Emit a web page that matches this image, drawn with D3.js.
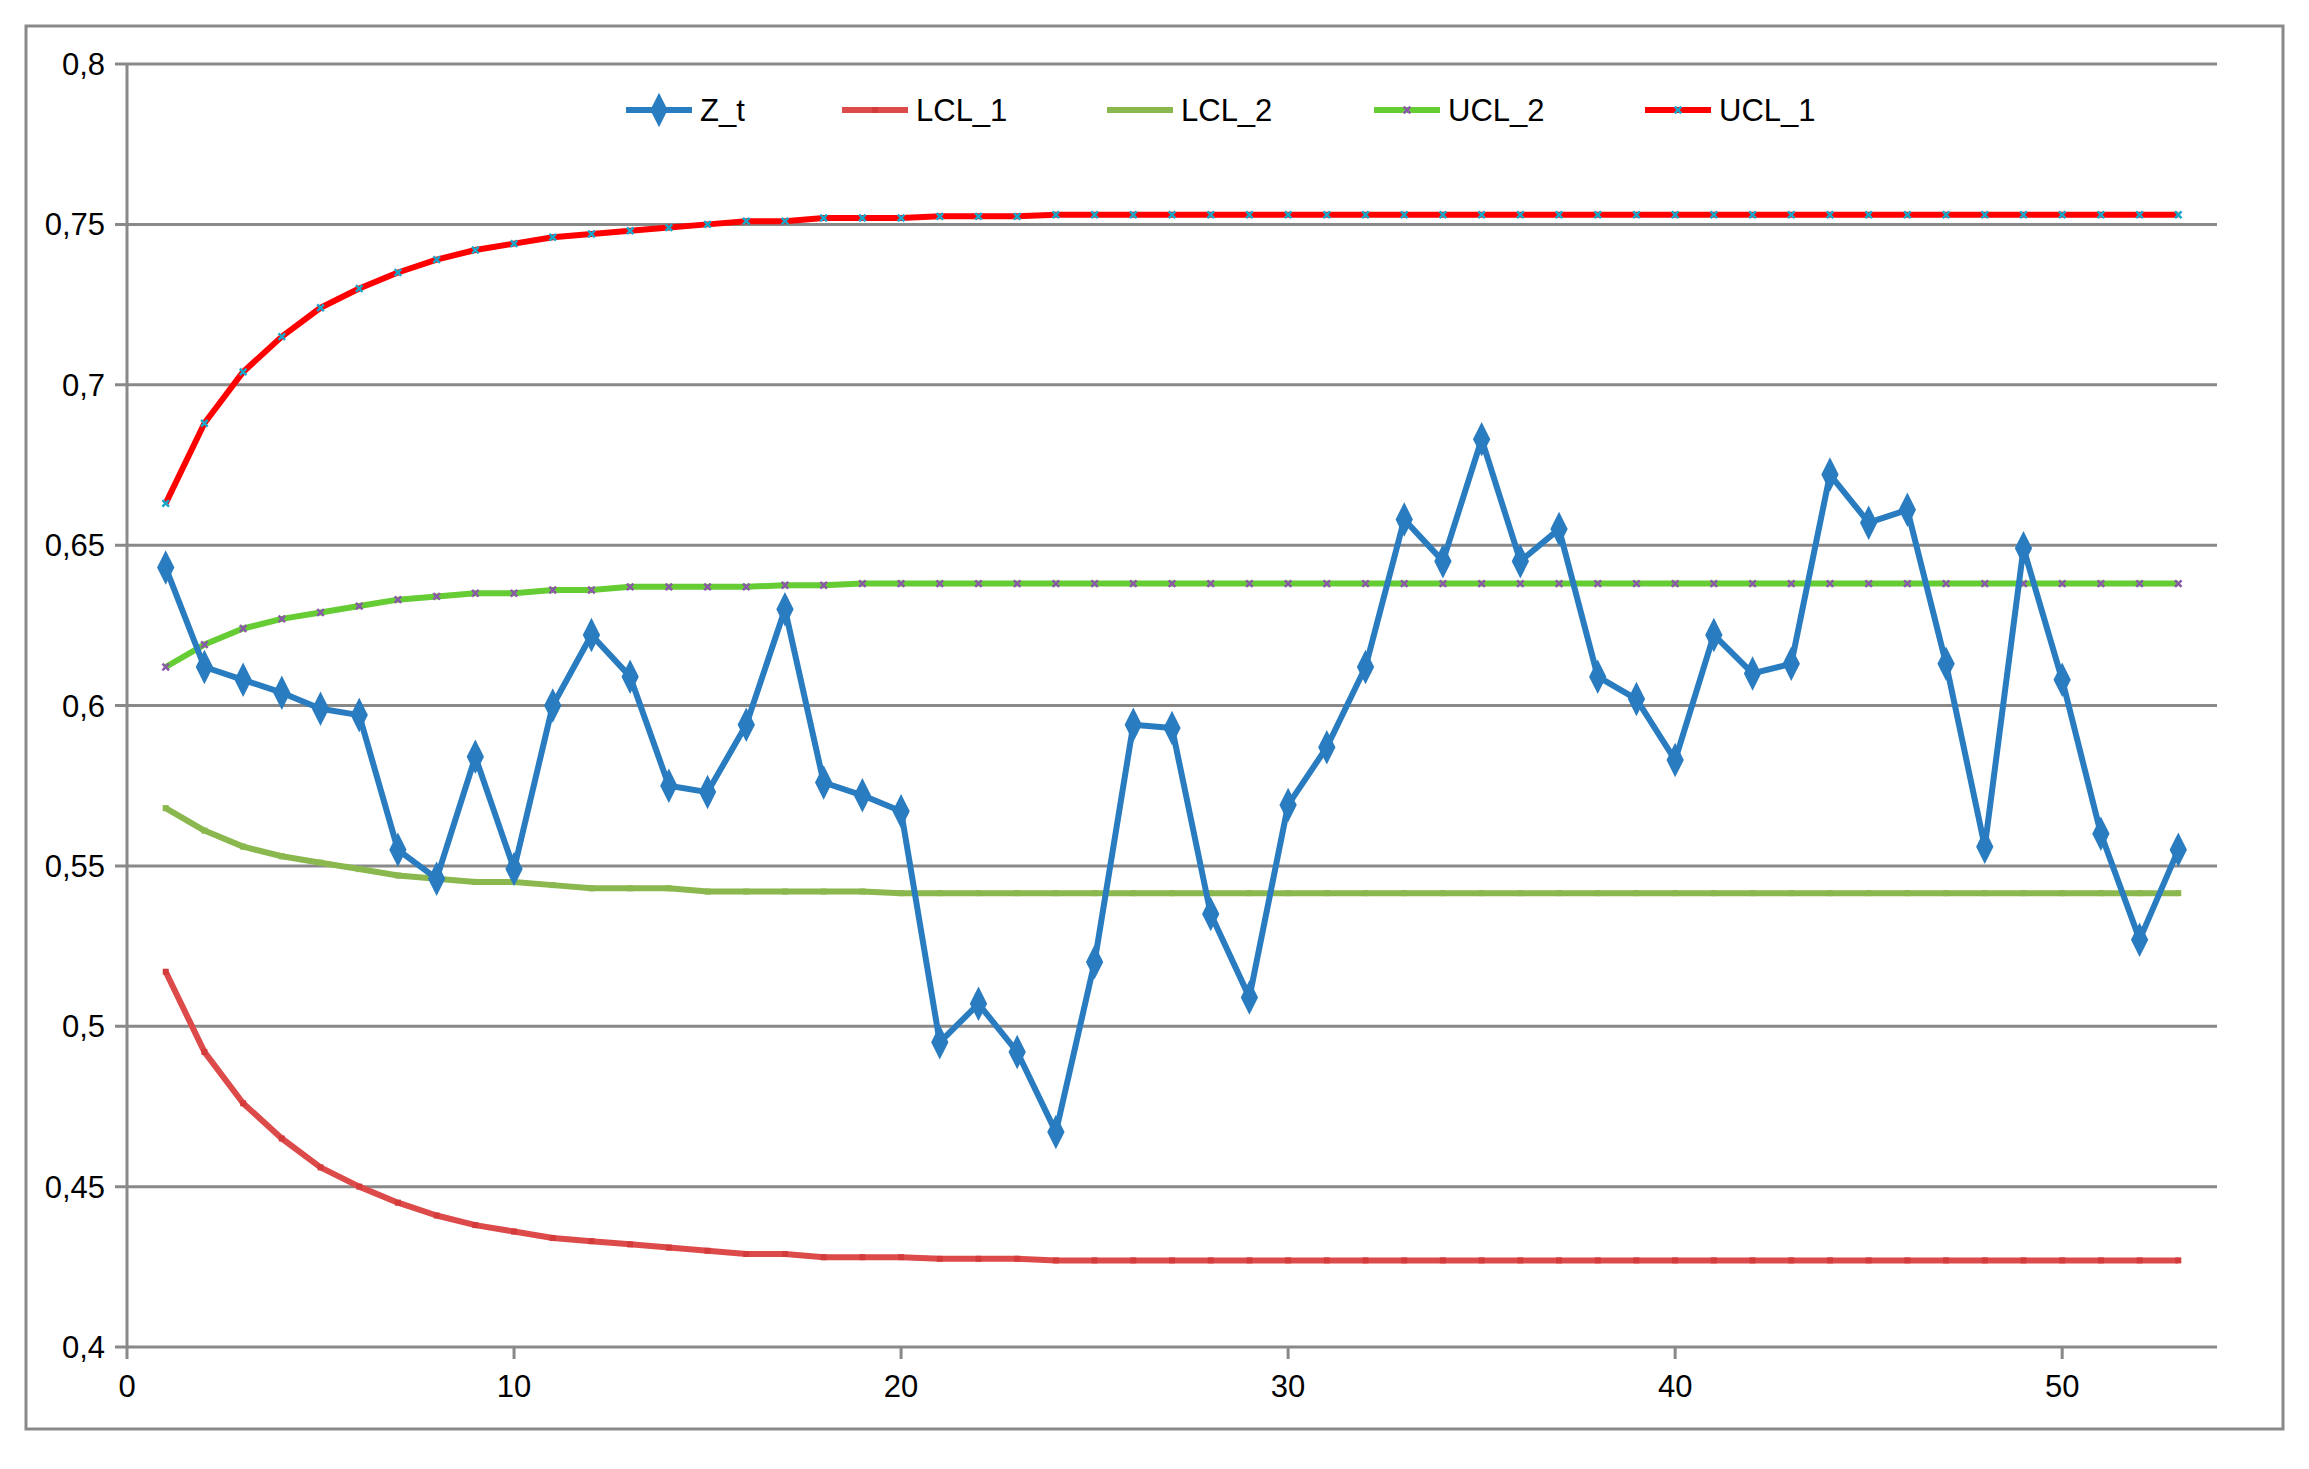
<!DOCTYPE html>
<html><head><meta charset="utf-8">
<script src="https://cdn.jsdelivr.net/npm/d3@7"></script>
<style>body{margin:0;background:#fff}text{font-family:"Liberation Sans",Arial,sans-serif}</style>
</head><body><div id="chart"></div>
<script>
// chart values
var zt = [0.643,0.612,0.608,0.604,0.599,0.597,0.555,0.546,0.584,0.549,0.600,0.622,0.609,0.575,0.573,0.594,0.630,0.576,0.572,0.567,
  0.495,0.507,0.492,0.467,0.520,0.594,0.593,0.535,0.509,0.569,0.587,0.612,0.658,0.645,0.683,0.645,0.655,0.609,0.602,0.583,
  0.622,0.610,0.613,0.672,0.657,0.661,0.613,0.556,0.649,0.608,0.560,0.527,0.555];
var ucl1 = [0.663,0.688,0.704,0.715,0.724,0.730,0.735,0.739,0.742,0.744,0.746,0.747,0.748,0.749,0.750,0.751,0.751,0.752,0.752,0.752,
  0.7525,0.7525,0.7525,0.753,0.753,0.753,0.753,0.753,0.753,0.753,0.753,0.753,0.753,0.753,0.753,0.753,0.753,0.753,0.753,0.753,
  0.753,0.753,0.753,0.753,0.753,0.753,0.753,0.753,0.753,0.753,0.753,0.753,0.753];
var lcl1 = [0.517,0.492,0.476,0.465,0.456,0.450,0.445,0.441,0.438,0.436,0.434,0.433,0.432,0.431,0.430,0.429,0.429,0.428,0.428,0.428,
  0.4275,0.4275,0.4275,0.427,0.427,0.427,0.427,0.427,0.427,0.427,0.427,0.427,0.427,0.427,0.427,0.427,0.427,0.427,0.427,0.427,
  0.427,0.427,0.427,0.427,0.427,0.427,0.427,0.427,0.427,0.427,0.427,0.427,0.427];
var ucl2 = [0.612,0.619,0.624,0.627,0.629,0.631,0.633,0.634,0.635,0.635,0.636,0.636,0.637,0.637,0.637,0.637,0.6375,0.6375,0.638,0.638,
  0.638,0.638,0.638,0.638,0.638,0.638,0.638,0.638,0.638,0.638,0.638,0.638,0.638,0.638,0.638,0.638,0.638,0.638,0.638,0.638,
  0.638,0.638,0.638,0.638,0.638,0.638,0.638,0.638,0.638,0.638,0.638,0.638,0.638];
var lcl2 = [0.568,0.561,0.556,0.553,0.551,0.549,0.547,0.546,0.545,0.545,0.544,0.543,0.543,0.543,0.542,0.542,0.542,0.542,0.542,0.5415,
  0.5415,0.5415,0.5415,0.5415,0.5415,0.5415,0.5415,0.5415,0.5415,0.5415,0.5415,0.5415,0.5415,0.5415,0.5415,0.5415,0.5415,0.5415,0.5415,0.5415,
  0.5415,0.5415,0.5415,0.5415,0.5415,0.5415,0.5415,0.5415,0.5415,0.5415,0.5415,0.5415,0.5415];
var yTicks = [0.4,0.45,0.5,0.55,0.6,0.65,0.7,0.75,0.8];
var xTicks = [0,10,20,30,40,50];

var W = 2309, H = 1469;
var svg = d3.select("#chart").append("svg").attr("width", W).attr("height", H);

// outer frame
svg.append("rect").attr("x", 26).attr("y", 26).attr("width", 2257).attr("height", 1403)
    .attr("fill", "none").attr("stroke", "#898989").attr("stroke-width", 3);

var x = d3.scaleLinear().domain([0, 54]).range([127, 2217]);
var y = d3.scaleLinear().domain([0.4, 0.8]).range([1347, 64]);

// gridlines
svg.append("g").selectAll("line").data(yTicks).enter().append("line")
    .attr("x1", x(0) - 12).attr("x2", x(54))
    .attr("y1", function(d){ return y(d); }).attr("y2", function(d){ return y(d); })
    .attr("stroke", "#898989").attr("stroke-width", 3);
svg.append("line").attr("x1", x(0)).attr("x2", x(0)).attr("y1", y(0.8)).attr("y2", y(0.4))
    .attr("stroke", "#898989").attr("stroke-width", 3);

var fmt = function(d){ return String(+d.toFixed(2)).replace(".", ","); };
svg.append("g").selectAll("text").data(yTicks).enter().append("text")
    .attr("x", x(0) - 22).attr("y", function(d){ return y(d) + 11; })
    .attr("text-anchor", "end").attr("font-size", 31).text(fmt);
svg.append("g").selectAll("line").data(xTicks).enter().append("line")
    .attr("x1", function(d){ return x(d); }).attr("x2", function(d){ return x(d); })
    .attr("y1", y(0.4)).attr("y2", y(0.4) + 12).attr("stroke", "#898989").attr("stroke-width", 3);
svg.append("g").selectAll("text").data(xTicks).enter().append("text")
    .attr("x", function(d){ return x(d); }).attr("y", y(0.4) + 50)
    .attr("text-anchor", "middle").attr("font-size", 31).text(function(d){ return d; });

var series = [
    {name: "Z_t", data: zt, color: "#2a7cc0", marker: "diamond", mcolor: "#2a7cc0", lx: 626},
    {name: "LCL_1", data: lcl1, color: "#dd4a4a", marker: "square", mcolor: "#d43c3c", lx: 842},
    {name: "LCL_2", data: lcl2, color: "#8ab84e", marker: "square", mcolor: "#8ab84e", lx: 1107},
    {name: "UCL_2", data: ucl2, color: "#66cc33", marker: "x", mcolor: "#8a5aa8", lx: 1374},
    {name: "UCL_1", data: ucl1, color: "#ff0000", marker: "x", mcolor: "#1aa6c8", lx: 1645}
];
var drawOrder = [1, 2, 3, 4, 0];
var line = d3.line().x(function(d, i){ return x(i + 1); }).y(function(d){ return y(d); });

function marker(g, type, cx, cy, col){
    if (type == "diamond") {
        g.append("path").attr("d", d3.symbol().type(d3.symbolDiamond).size(260)())
            .attr("transform", "translate(" + cx + "," + cy + ") scale(1,1.15)").attr("fill", col);
    } else if (type == "square") {
        g.append("rect").attr("x", cx - 3).attr("y", cy - 3).attr("width", 6).attr("height", 6).attr("fill", col);
    } else {
        g.append("path").attr("d", d3.symbol().type(d3.symbolX).size(30)())
            .attr("transform", "translate(" + cx + "," + cy + ")")
            .attr("stroke", col).attr("stroke-width", 2.5).attr("fill", "none");
    }
}

drawOrder.forEach(function(k){
    var s = series[k];
    var g = svg.append("g");
    g.append("path").datum(s.data).attr("d", line).attr("fill", "none")
        .attr("stroke", s.color).attr("stroke-width", 6).attr("stroke-linejoin", "round");
    s.data.forEach(function(v, i){ marker(g, s.marker, x(i + 1), y(v), s.mcolor); });
});

// legend
series.forEach(function(s){
    var g = svg.append("g");
    g.append("line").attr("x1", s.lx).attr("x2", s.lx + 66).attr("y1", 110).attr("y2", 110)
        .attr("stroke", s.color).attr("stroke-width", 6);
    marker(g, s.marker, s.lx + 33, 110, s.mcolor);
    g.append("text").attr("x", s.lx + 74).attr("y", 121).attr("font-size", 31).text(s.name);
});
</script></body></html>
